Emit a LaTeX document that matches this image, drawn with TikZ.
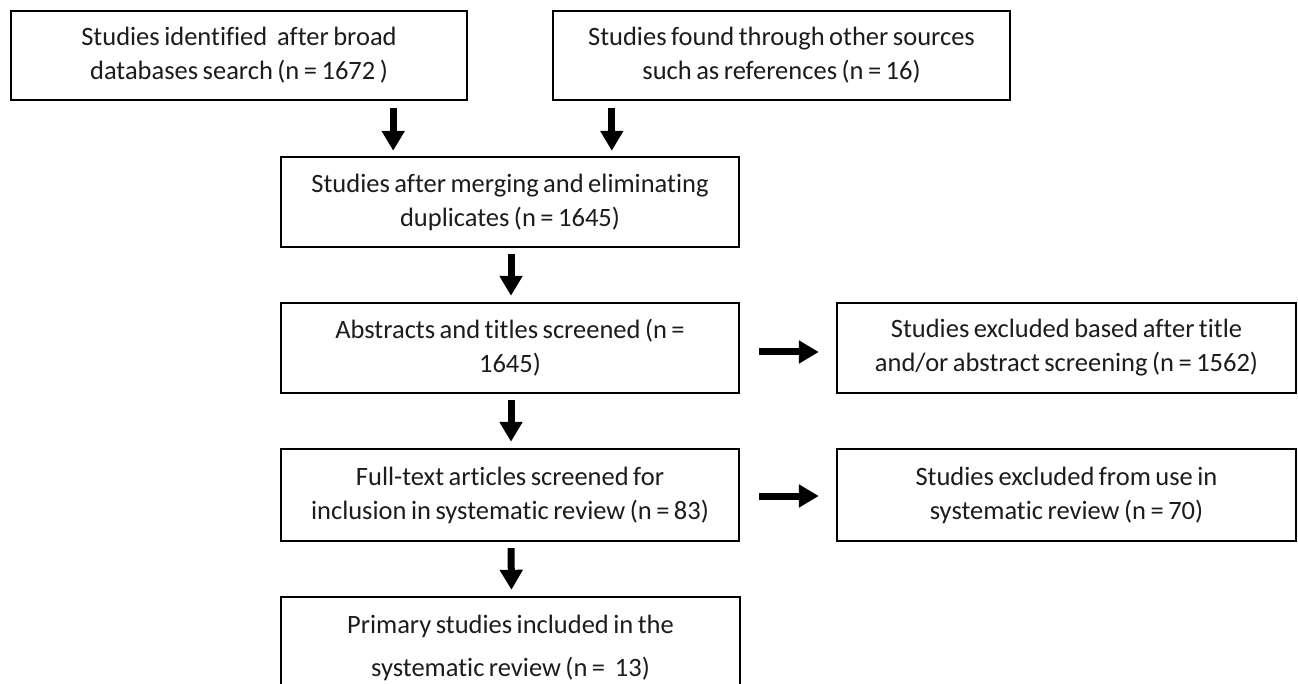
\documentclass[tikz,border=0pt]{standalone}
\usepackage{fontspec}
\setmainfont{Carlito}[Ligatures=CommonOff]
\usetikzlibrary{arrows.meta}
\definecolor{txt}{RGB}{28,28,28}
\newcommand{\boxfont}[1]{\fontsize{26.5}{#1}\selectfont\spaceskip=4.5pt plus 1pt\relax}
\tikzset{
  box/.style={draw=black, line width=2.4pt, rectangle, inner sep=0pt,
    minimum width=457pt, minimum height=90pt, align=center,
    text=txt, font=\boxfont{34}},
  arr/.style={line width=7pt, -{Triangle[length=20pt,width=22pt]}, black}
}
\begin{document}
\begin{tikzpicture}[x=1pt,y=-1pt]
\clip (0,0) rectangle (1298,684);
\fill[white] (0,0) rectangle (1298,684);
\node[box, minimum width=456pt, minimum height=89pt] (b1) at (239,55.5) {Studies identified\hspace{0.2em} after broad\\databases search (n = 1672 )};
\node[box, minimum height=89pt] (b2) at (781.5,55.5) {Studies found through other sources\\such as references (n = 16)};
\node[box, minimum width=458pt] (b3) at (510,202) {Studies after merging and eliminating\\duplicates (n = 1645)};
\node[box, minimum width=458pt] (b4) at (510,348) {Abstracts and titles screened (n =\\1645)};
\node[box, minimum width=459pt] (b5) at (1066.5,348) {Studies excluded based after title\\and/or abstract screening (n = 1562)};
\node[box, minimum width=458pt, minimum height=92pt] (b6) at (510,495) {Full-text articles screened for\\inclusion in systematic review (n = 83)};
\node[box, minimum width=459pt, minimum height=92pt] (b7) at (1066.5,495) {Studies excluded from use in\\systematic review (n = 70)};
\node[box, minimum width=459pt, minimum height=102pt, font=\boxfont{43}] (b8) at (510.5,648) {Primary studies included in the\\systematic review (n =\hspace{0.2em} 13)};
% connectors
\draw[arr, shorten <=7pt, shorten >=5pt] ([xshift=-75pt]b1.south east) -- ([xshift=-75pt]b1.south east |- b3.north);
\draw[arr, shorten <=7pt, shorten >=5pt] ([xshift=60pt]b2.south west) -- ([xshift=60pt]b2.south west |- b3.north);
\draw[arr, shorten <=6pt, shorten >=6pt] ([xshift=1pt]b3.south) -- ([xshift=1pt]b4.north);
\draw[arr, shorten <=6pt, shorten >=6pt] ([xshift=1pt]b4.south) -- ([xshift=1pt]b6.north);
\draw[arr, shorten <=6pt, shorten >=6pt] ([xshift=1pt]b6.south) -- ([xshift=1pt]b8.north);
\draw[arr, shorten <=19pt, shorten >=17pt] ([yshift=-4pt]b4.east) -- ([yshift=-4pt]b4.east -| b5.west);
\draw[arr, shorten <=19pt, shorten >=17pt] ([yshift=-1pt]b6.east) -- ([yshift=-1pt]b6.east -| b7.west);
\end{tikzpicture}
\end{document}
